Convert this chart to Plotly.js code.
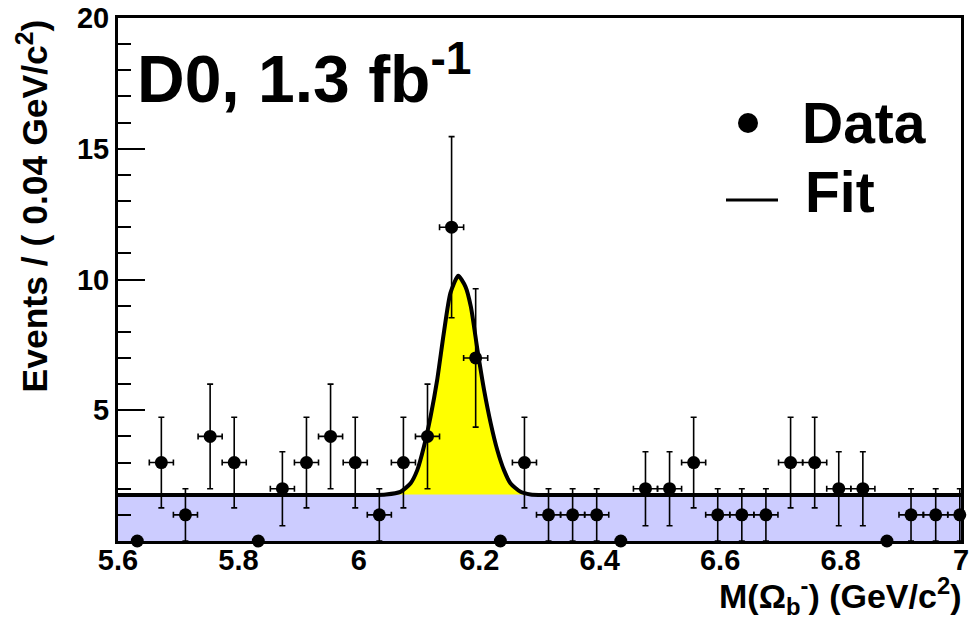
<!DOCTYPE html>
<html>
<head>
<meta charset="utf-8">
<script src="https://cdn.plot.ly/plotly-3.0.1.min.js"></script>
<style>html,body{margin:0;padding:0;background:#fff;}#chart{width:972px;height:618px;}</style>
</head>
<body>
<div id="chart"></div>
<script>
// ---- data ----
const massBins = [5.632,5.672,5.712,5.753,5.793,5.833,5.873,5.913,5.953,5.994,6.034,6.074,6.114,6.154,6.194,6.235,6.275,6.315,6.355,6.395,6.435,6.476,6.516,6.556,6.596,6.636,6.676,6.717,6.757,6.797,6.837,6.877,6.917,6.958,6.998];
const events   = [0,3,1,4,3,0,2,3,4,3,1,3,4,12,7,0,3,1,1,1,0,2,2,3,1,1,1,3,3,2,2,0,1,1,1];
const eventErr = [0,1.732,1,2,1.732,0,1.414,1.732,2,1.732,1,1.732,2,3.464,2.646,0,1.732,1,1,1,0,1.414,1.414,1.732,1,1,1,1.732,1.732,1.414,1.414,0,1,1,1];
const binHalfWidth = [0,0.02,0.02,0.02,0.02,0,0.02,0.02,0.02,0.02,0.02,0.02,0.02,0.02,0.02,0,0.02,0.02,0.02,0.02,0,0.02,0.02,0.02,0.02,0.02,0.02,0.02,0.02,0.02,0.02,0,0.02,0.02,0.02];
const fitX = [5.6,6.02,6.045,6.069,6.086,6.097,6.108,6.119,6.130,6.141,6.152,6.165,6.177,6.186,6.197,6.208,6.219,6.230,6.241,6.252,6.2685,6.285,6.31,7.0];
const fitY = [1.76,1.76,1.78,1.88,2.21,2.71,3.60,4.75,6.15,7.94,9.48,10.14,9.73,8.96,7.30,5.77,4.50,3.47,2.71,2.20,1.88,1.78,1.76,1.76];
const bkgX = [5.6,7.0];
const bkgY = [1.80,1.80];
const xTicks = [5.6,5.8,6,6.2,6.4,6.6,6.8,7];
const xTickText = ['5.6','5.8','6','6.2','6.4','6.6','6.8','7'];
const yTicks = [5,10,15,20];

// signal region of the fit (where the peak rises above background)
const sigX = [], sigY = [];
fitX.forEach((x,i)=>{ if (x>=6.04 && x<=6.29){ sigX.push(x); sigY.push(fitY[i]); } });

// ---- layout helpers (pixels -> paper) ----
const W=972, H=618, ML=118, MR=11, MT=18, MB=77;
const px = p => (p-ML)/(W-ML-MR);
const py = p => (H-MB-p)/(H-MT-MB);
const FONT = 'Liberation Sans, Arial, Helvetica, sans-serif';

const traces = [
  {x:bkgX, y:bkgY, type:'scatter', mode:'lines', fill:'tozeroy', fillcolor:'#ccccff',
   line:{width:0, color:'#ccccff'}, hoverinfo:'skip', showlegend:false},
  {x:sigX, y:sigY, type:'scatter', mode:'lines', fill:'toself', fillcolor:'#ffff00',
   line:{width:0, color:'#ffff00'}, hoverinfo:'skip', showlegend:false},
  {x:fitX, y:fitY, type:'scatter', mode:'lines', line:{color:'#000', width:4, shape:'spline', smoothing:0.6},
   name:'Fit', showlegend:false},
  {x:massBins, y:events, type:'scatter', mode:'markers', name:'Data', showlegend:false, cliponaxis:false,
   marker:{color:'#000', size:13, symbol:'circle'},
   error_y:{type:'data', array:eventErr, visible:true, color:'#000', thickness:1.6, width:3},
   error_x:{type:'data', array:binHalfWidth, visible:true, color:'#000', thickness:1.6, width:3}}
];

const layout = {
  width:W, height:H,
  margin:{l:ML, r:MR, t:MT, b:MB, pad:0},
  paper_bgcolor:'#fff', plot_bgcolor:'#fff',
  showlegend:false,
  xaxis:{range:[5.6,7.0], tickvals:xTicks, ticktext:xTickText, ticks:'', showgrid:false, zeroline:false,
         showline:true, mirror:true, linecolor:'#000', linewidth:3, ticklabelstandoff:-9,
         tickfont:{family:FONT, size:29, color:'#000', weight:'bold'}},
  yaxis:{range:[0,20], tickvals:yTicks, ticks:'inside', ticklen:27, tickwidth:2, tickcolor:'#000',
         minor:{dtick:1, ticks:'inside', ticklen:13, tickwidth:2, tickcolor:'#000', showgrid:false},
         showgrid:false, zeroline:false, showline:true, mirror:true, linecolor:'#000', linewidth:3,
         tickfont:{family:FONT, size:29, color:'#000', weight:'bold'}},
  annotations:[
    {xref:'paper', yref:'paper', x:px(135), y:py(74), xanchor:'left', yanchor:'middle', showarrow:false,
     text:'D0, 1.3 fb<sup>-1</sup>', font:{family:FONT, size:66, color:'#000', weight:'bold'}},
    {xref:'paper', yref:'paper', x:px(800), y:py(123), xanchor:'left', yanchor:'middle', showarrow:false,
     text:'Data', font:{family:FONT, size:57, color:'#000', weight:'bold'}},
    {xref:'paper', yref:'paper', x:px(803), y:py(192), xanchor:'left', yanchor:'middle', showarrow:false,
     text:'Fit', font:{family:FONT, size:57, color:'#000', weight:'bold'}},
    {xref:'paper', yref:'paper', x:px(963), y:py(596), xanchor:'right', yanchor:'middle', showarrow:false,
     text:'M(\u03A9<sub>b</sub><sup>-</sup>) (GeV/c<sup>2</sup>)', font:{family:FONT, size:34, color:'#000', weight:'bold'}},
    {xref:'paper', yref:'paper', x:px(33), y:py(18), xanchor:'center', yanchor:'top', showarrow:false, textangle:-90,
     text:'Events / ( 0.04 GeV/c<sup>2</sup>)', font:{family:FONT, size:35.5, color:'#000', weight:'bold'}}
  ],
  shapes:[
    {type:'circle', xref:'paper', yref:'paper', x0:px(738), x1:px(758), y0:py(113), y1:py(133),
     fillcolor:'#000', line:{width:0}},
    {type:'line', xref:'paper', yref:'paper', x0:px(726), x1:px(778), y0:py(200), y1:py(200),
     line:{color:'#000', width:3}}
  ]
};

Plotly.newPlot('chart', traces, layout, {displayModeBar:false, staticPlot:true});
</script>
</body>
</html>
